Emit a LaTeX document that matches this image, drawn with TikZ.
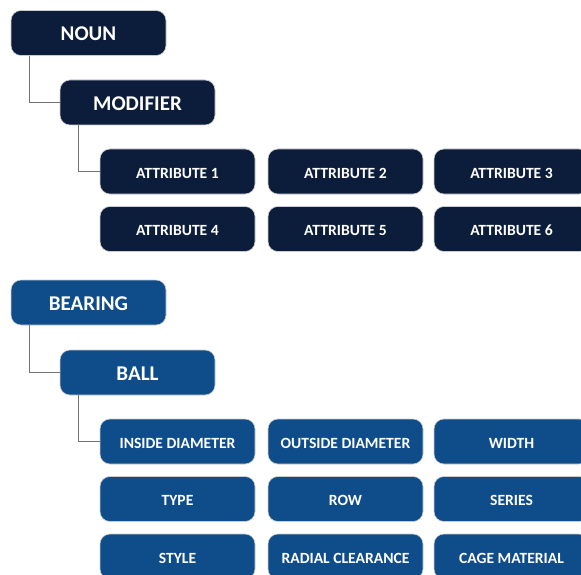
\documentclass[tikz,border=0pt]{standalone}
\usepackage{fontspec}
\setmainfont{Carlito}
\usepackage{tikz}

\definecolor{navy}{RGB}{11,29,59}
\definecolor{bearblue}{RGB}{15,76,138}

\tikzset{
    box/.style={rectangle, rounded corners=10pt, draw=black!20, line width=0.6pt,
        minimum width=155pt, minimum height=45pt, inner sep=0pt, text depth=0pt,
        text=white, font=\bfseries},
    headbox/.style={box, text height=15.7pt, font=\bfseries\fontsize{21}{25}\selectfont},
    attrbox/.style={box, text height=13.6pt, font=\bfseries\fontsize{15.6}{18}\selectfont},
    link/.style={draw=black!55, line width=1.5pt}
}

\begin{document}
\begin{tikzpicture}[x=1pt, y=-1pt]
        \clip (0, 0) rectangle (581, 575);

        % noun / modifier / attributes
        \node[headbox, fill=navy] (noun) at (88.5, 33) {NOUN};
        \node[headbox, fill=navy] (modifier) at (137.5, 102.5) {MODIFIER};
        \node[attrbox, fill=navy] (attr1) at (177.5, 171.5) {ATTRIBUTE 1};
        \node[attrbox, fill=navy] (attr2) at (345.5, 171.5) {ATTRIBUTE 2};
        \node[attrbox, fill=navy] (attr3) at (511.5, 171.5) {ATTRIBUTE 3};
        \node[attrbox, fill=navy] (attr4) at (177.5, 229) {ATTRIBUTE 4};
        \node[attrbox, fill=navy] (attr5) at (345.5, 229) {ATTRIBUTE 5};
        \node[attrbox, fill=navy] (attr6) at (511.5, 229) {ATTRIBUTE 6};

        \draw[link] ([xshift=19pt]noun.south west) |- (modifier.west);
        \draw[link] ([xshift=19pt]modifier.south west) |- (attr1.west);

        % bearing example
        \node[headbox, fill=bearblue] (bearing) at (88.5, 302.5) {BEARING};
        \node[headbox, fill=bearblue] (ball) at (137.5, 372.5) {BALL};
        \node[attrbox, fill=bearblue] (inner) at (177.5, 441.5) {INSIDE DIAMETER};
        \node[attrbox, fill=bearblue] (outer) at (345.5, 441.5) {OUTSIDE DIAMETER};
        \node[attrbox, fill=bearblue] (width) at (511.5, 441.5) {WIDTH};
        \node[attrbox, fill=bearblue] (type) at (177.5, 499) {TYPE};
        \node[attrbox, fill=bearblue] (row) at (345.5, 499) {ROW};
        \node[attrbox, fill=bearblue] (series) at (511.5, 499) {SERIES};
        \node[attrbox, fill=bearblue] (style) at (177.5, 556.5) {STYLE};
        \node[attrbox, fill=bearblue] (radial) at (345.5, 556.5) {RADIAL CLEARANCE};
        \node[attrbox, fill=bearblue] (cage) at (511.5, 556.5) {CAGE MATERIAL};

        \draw[link] ([xshift=19pt]bearing.south west) |- (ball.west);
        \draw[link] ([xshift=19pt]ball.south west) |- (inner.west);
    \end{tikzpicture}
\end{document}
